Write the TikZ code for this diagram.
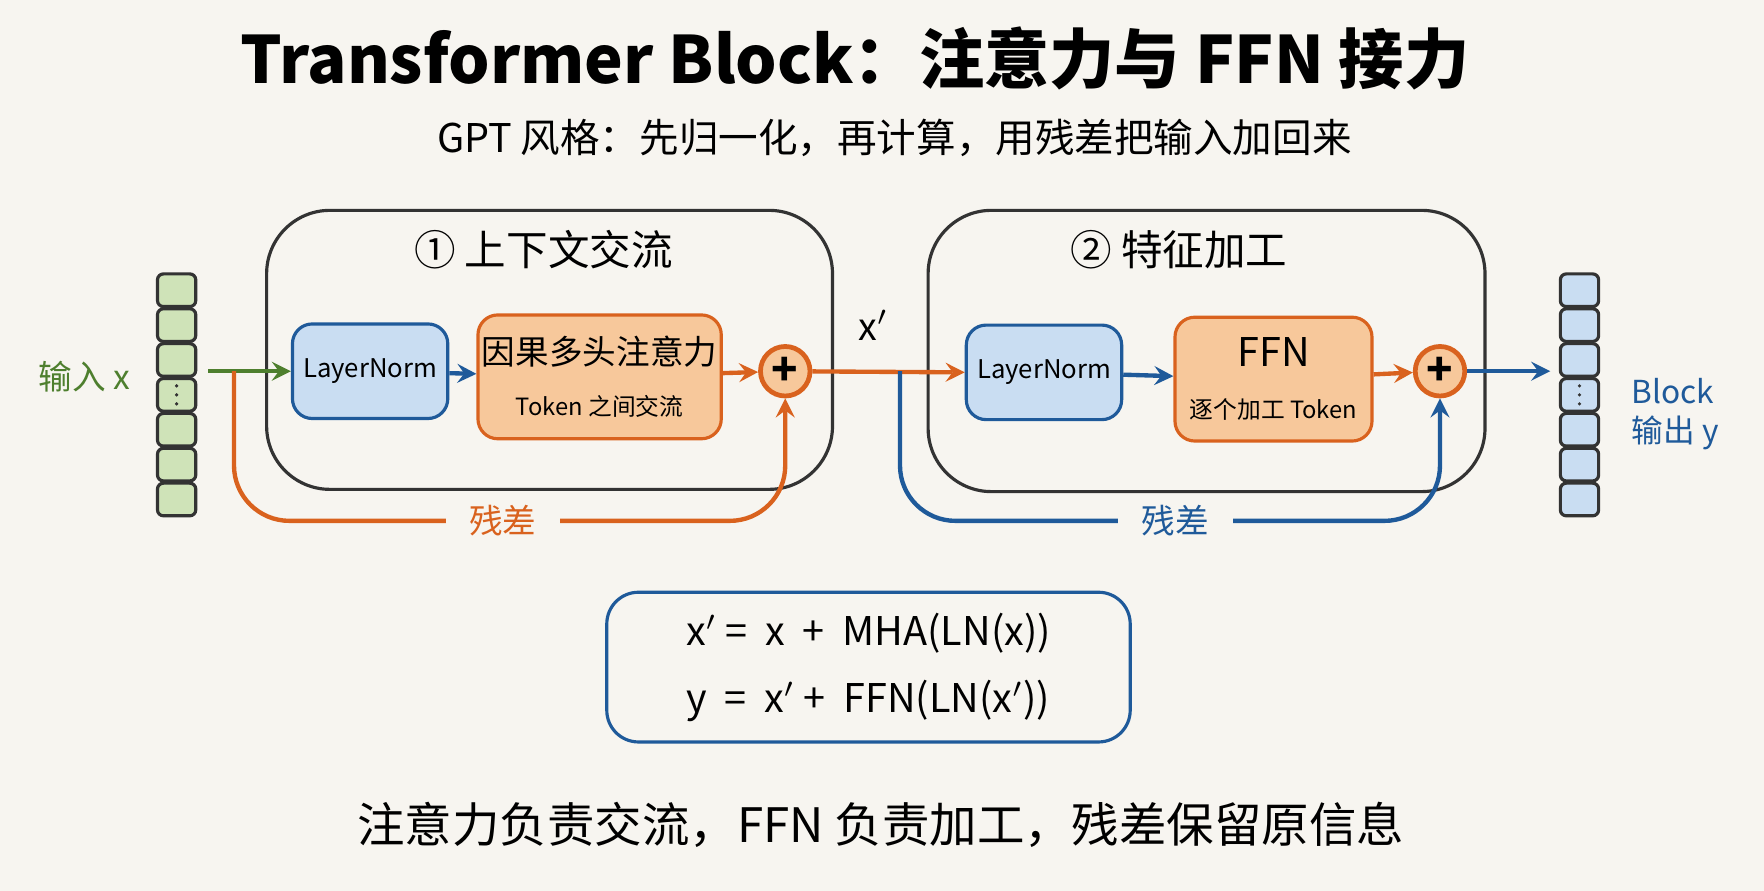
\documentclass[tikz,border=0pt]{standalone}
\usepackage{fontspec}
\setmainfont{Noto Sans CJK SC}
\usetikzlibrary{positioning,calc}
\definecolor{bg}{HTML}{F7F5F0}
\definecolor{grn}{HTML}{4E7F2E}
\definecolor{grnfill}{HTML}{CFE3B8}
\definecolor{blu}{HTML}{1F5A9A}
\definecolor{blufill}{HTML}{C9DDF2}
\definecolor{org}{HTML}{D9621E}
\definecolor{orgfill}{HTML}{F7C89B}
\tikzset{
  stage/.style={draw=black!80, thick, rounded corners=16pt, fill=bg},
  lnbox/.style={draw=blu, thick, fill=blufill, rounded corners=5pt, minimum width=1.38cm, minimum height=0.84cm, inner sep=1pt, font=\fontsize{6.5}{8}\selectfont},
  opbox/.style={draw=org, thick, fill=orgfill, rounded corners=5pt, minimum width=1.93cm, minimum height=1.1cm, inner sep=1pt, align=center},
  plus/.style={circle, draw=org, very thick, fill=orgfill, minimum size=0.44cm, inner sep=0pt, font=\bfseries\fontsize{11}{11}\selectfont},
  cell/.style={draw=black!80, thick, rounded corners=1.5pt, minimum width=0.34cm, minimum height=0.29cm, inner sep=0pt},
  arr/.style={->, line width=1.1pt, >=stealth},
  reslab/.style={fill=bg, inner xsep=6pt, inner ysep=2pt, font=\fontsize{8.5}{10}\selectfont}
}
\begin{document}
\begin{tikzpicture}[x=0.01cm, y=-0.01cm]
  \fill[bg] (0,0) rectangle (1568,792);

  \node (title) at (760,52) {\fontsize{16.5}{19}\selectfont\bfseries Transformer Block：注意力与 FFN 接力};
  \node (sub) at (795,123) {\fontsize{10}{12}\selectfont GPT 风格：先归一化，再计算，用残差把输入加回来};

  % two stages
  \draw[stage] (237,187) rectangle (740,435);
  \node (t1) at (483,222) {\fontsize{10.5}{12}\selectfont ① 上下文交流};
  \draw[stage] (825,187) rectangle (1320,437);
  \node (t2) at (1048,222) {\fontsize{10.5}{12}\selectfont ② 特征加工};

  % input / output vectors
  \foreach \i in {0,...,6} {
    \node[cell, fill=grnfill] (in\i) at (157,258+\i*31) {};
    \node[cell, fill=blufill] (out\i) at (1404,258+\i*31) {};
  }
  \foreach \v in {in3,out3}
    \foreach \d in {-8,0,8}
      \fill[black!80] ($(\v)+(0,\d)$) circle (1.6);
  \node[text=grn, font=\fontsize{8.5}{10}\selectfont] (inlab) at (75,335) {输入 x};
  \node[text=blu, font=\fontsize{8}{10}\selectfont, align=left, anchor=west] (outlab) at (1438,368) {Block\\输出 y};

  % stage 1
  \node[lnbox] (ln1) at (329,330) {LayerNorm};
  \node[opbox] (mha) at (533,335) {{\fontsize{8.5}{10}\selectfont 因果多头注意力}\\[1pt]{\fontsize{6}{7}\selectfont Token 之间交流}};
  \node[plus] (p1) at (698,330) {+};
  % stage 2
  \node[lnbox] (ln2) at (928,331) {LayerNorm};
  \node[opbox, minimum width=1.75cm] (ffn) at (1132,337) {{\fontsize{10}{12}\selectfont FFN}\\[1pt]{\fontsize{6}{7}\selectfont 逐个加工 Token}};
  \node[plus] (p2) at (1280,330) {+};

  \coordinate (inR) at (185,330);
  \coordinate (br1) at (208,330);
  \coordinate (br2) at (800,330);
  \coordinate (outL) at (1378,330);

  \draw[arr, grn] (inR) -- (ln1.west);
  \draw[arr, blu] (ln1) -- (mha);
  \draw[arr, org] (mha) -- (p1);
  \draw[arr, org] (p1) -- (ln2.west) node[pos=0.4, above=4pt, text=black, font=\fontsize{9.5}{11}\selectfont] {x$'$};
  \draw[arr, blu] (ln2) -- (ffn);
  \draw[arr, org] (ffn) -- (p2);
  \draw[arr, blu] (p2) -- (outL);

  % residual paths
  \draw[arr, org, rounded corners=14pt] (br1) |- (698,463) -- (p1.south);
  \node[reslab, text=org] (res1) at (447,463) {残差};
  \draw[arr, blu, rounded corners=14pt] (br2) |- (1280,463) -- (p2.south);
  \node[reslab, text=blu] (res2) at (1045,463) {残差};

  % formulas
  \node[draw=blu, thick, rounded corners=8pt, minimum width=4.65cm, minimum height=1.33cm, align=left, font=\fontsize{10}{17}\selectfont] (eq) at (772,593)
    {x$'$ = \ x \ + \ MHA(LN(x))\\y \ = \ x$'$ + \ FFN(LN(x$'$))};

  \node (bottom) at (783,733) {\fontsize{12}{14}\selectfont 注意力负责交流，FFN 负责加工，残差保留原信息};
\end{tikzpicture}
\end{document}
